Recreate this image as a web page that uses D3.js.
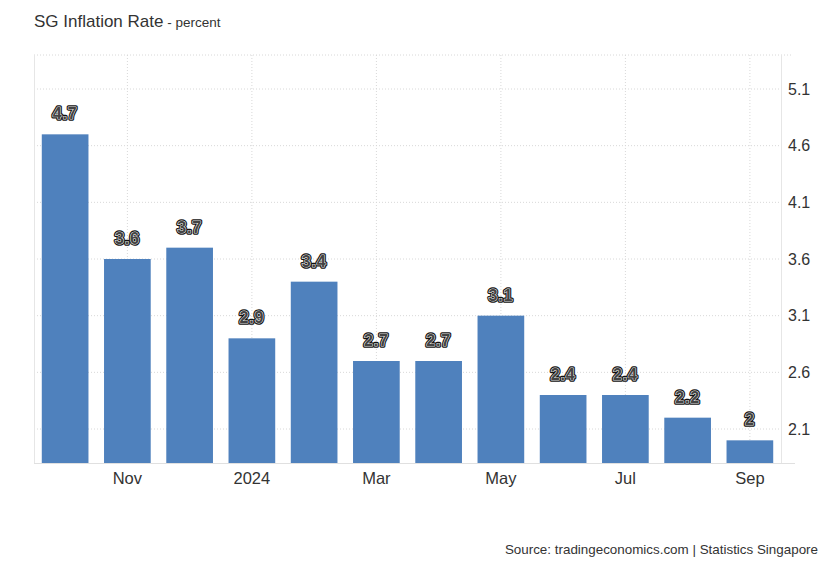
<!DOCTYPE html>
<html>
<head>
<meta charset="utf-8">
<script src="https://cdn.jsdelivr.net/npm/d3@7"></script>
<style>
  body { margin: 0; background: #fff; }
  svg text { font-family: "Liberation Sans", Arial, sans-serif; }
</style>
</head>
<body>
<div id="chart"></div>
<script>
const months = ['Oct', 'Nov', 'Dec', 'Jan', 'Feb', 'Mar', 'Apr', 'May', 'Jun', 'Jul', 'Aug', 'Sep']
const values = [4.7, 3.6, 3.7, 2.9, 3.4, 2.7, 2.7, 3.1, 2.4, 2.4, 2.2, 2.0]
const xTickMonths = ['Nov', 'Jan', 'Mar', 'May', 'Jul', 'Sep']
const xTickLabels = ['Nov', '2024', 'Mar', 'May', 'Jul', 'Sep']
const yTicks = [2.1, 2.6, 3.1, 3.6, 4.1, 4.6, 5.1]

const width = 830, height = 567
const plotLeft = 34, plotRight = 781, plotTop = 55, plotBottom = 463

let svg = d3.select('#chart').append('svg')
  .attr('width', width)
  .attr('height', height)

let x = d3.scaleBand()
  .domain(months)
  .range([plotLeft, plotRight])
  .paddingInner(0.25)
  .paddingOuter(0.125)
let y = d3.scaleLinear()
  .domain([1.8, 5.4])
  .range([plotBottom, plotTop])

// grid
let grid = svg.append('g')
grid.selectAll('.hgrid')
  .data(yTicks)
  .enter().append('line')
  .attr('x1', plotLeft).attr('x2', plotRight)
  .attr('y1', d => y(d)).attr('y2', d => y(d))
  .attr('stroke', '#d8d8d8')
  .attr('stroke-dasharray', '1,2')
grid.append('line')
  .attr('x1', plotLeft).attr('x2', 793)
  .attr('y1', plotTop).attr('y2', plotTop)
  .attr('stroke', '#d8d8d8')
  .attr('stroke-dasharray', '1,2')
grid.selectAll('.vgrid')
  .data(xTickMonths)
  .enter().append('line')
  .attr('x1', d => x(d) + x.bandwidth() / 2).attr('x2', d => x(d) + x.bandwidth() / 2)
  .attr('y1', plotTop).attr('y2', plotBottom)
  .attr('stroke', '#d8d8d8')
  .attr('stroke-dasharray', '1,2')
grid.append('line')
  .attr('x1', plotLeft + 0.5).attr('x2', plotLeft + 0.5)
  .attr('y1', plotTop).attr('y2', plotBottom)
  .attr('stroke', '#e6e6e6')
grid.append('line')
  .attr('x1', plotRight + 0.5).attr('x2', plotRight + 0.5)
  .attr('y1', plotTop).attr('y2', plotBottom)
  .attr('stroke', '#e6e6e6')

// bars
svg.selectAll('.bar')
  .data(values)
  .enter().append('rect')
  .attr('class', 'bar')
  .attr('x', (d, i) => x(months[i]))
  .attr('y', d => y(d))
  .attr('width', x.bandwidth())
  .attr('height', d => plotBottom - y(d))
  .attr('fill', '#4f81bd')

svg.append('line')
  .attr('x1', plotLeft).attr('x2', 795)
  .attr('y1', plotBottom + 0.5).attr('y2', plotBottom + 0.5)
  .attr('stroke', '#e0e0e0')

// y axis on the right
let yAxis = svg.append('g')
  .attr('transform', 'translate(' + plotRight + ',0)')
  .call(d3.axisRight(y).tickValues(yTicks).tickSize(0).tickPadding(7).tickFormat(d3.format('.1f')))
yAxis.select('.domain').remove()
yAxis.selectAll('text')
  .attr('font-size', 16)
  .attr('fill', '#333')
  .attr('font-family', '"Liberation Sans", Arial, sans-serif')

// x axis
let xAxis = svg.append('g')
  .attr('transform', 'translate(0,' + plotBottom + ')')
  .call(d3.axisBottom(x).tickValues(xTickMonths).tickSize(0).tickPadding(9)
    .tickFormat(d => xTickLabels[xTickMonths.indexOf(d)]))
xAxis.select('.domain').remove()
xAxis.selectAll('text')
  .attr('font-size', 16.5)
  .attr('fill', '#333')
  .attr('font-family', '"Liberation Sans", Arial, sans-serif')

// data labels (dark outline, light ring, grey fill)
let labels = svg.append('g').attr('opacity', 0.995)
labels.selectAll('.lblBack')
  .data(values)
  .enter().append('text')
  .attr('x', (d, i) => x(months[i]) + x.bandwidth() / 2)
  .attr('y', d => y(d) - 15)
  .attr('text-anchor', 'middle')
  .attr('font-size', 16)
  .attr('font-weight', 'bold')
  .attr('letter-spacing', 0.8)
  .attr('fill', '#111')
  .attr('stroke', '#111')
  .attr('stroke-width', 3.5)
  .attr('stroke-linejoin', 'round')
  .text(d => d)
labels.selectAll('.lblFront')
  .data(values)
  .enter().append('text')
  .attr('x', (d, i) => x(months[i]) + x.bandwidth() / 2)
  .attr('y', d => y(d) - 15)
  .attr('text-anchor', 'middle')
  .attr('font-size', 16)
  .attr('font-weight', 'bold')
  .attr('letter-spacing', 0.8)
  .attr('fill', '#444')
  .attr('stroke', '#e8e8e8')
  .attr('stroke-width', 1.2)
  .attr('paint-order', 'stroke')
  .attr('stroke-linejoin', 'round')
  .text(d => d)

// title and source
let title = svg.append('text')
  .attr('x', plotLeft)
  .attr('y', 27)
  .attr('fill', '#333')
  .attr('font-size', 17)
title.append('tspan').text('SG Inflation Rate')
title.append('tspan').attr('font-size', 13.5).text(' - percent')

svg.append('text')
  .attr('x', 818)
  .attr('y', 554)
  .attr('text-anchor', 'end')
  .attr('fill', '#333')
  .attr('font-size', 13.4)
  .text('Source: tradingeconomics.com | Statistics Singapore')
</script>
</body>
</html>
